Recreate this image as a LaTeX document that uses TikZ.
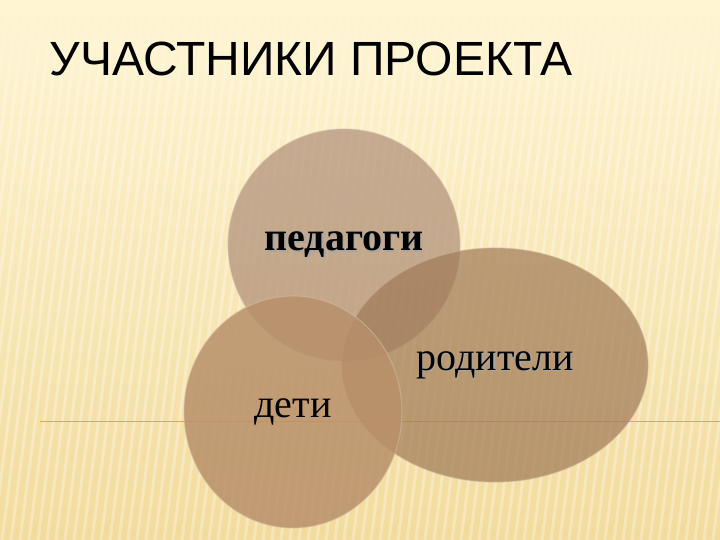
\documentclass[tikz,border=0pt]{standalone}
\usepackage{fontspec}
\setmainfont{Liberation Serif}
\newfontfamily\titlefont{Liberation Sans}
\usetikzlibrary{shapes.geometric,fadings}

\definecolor{creamtop}{HTML}{FFF5D3}
\definecolor{creambot}{HTML}{F2DB9C}
\definecolor{rulecol}{HTML}{E9A546}
\definecolor{pedcol}{HTML}{AE8D77}
\definecolor{rodcol}{HTML}{9F7956}
\definecolor{detcol}{HTML}{B8906A}

\begin{document}
\begin{tikzpicture}[x=1pt,y=-1pt,
    blob/.style={ellipse,fill opacity=0.7,text opacity=1,
      draw=#1!60!white,draw opacity=0.5,line width=1.2pt,fill=#1},
    lbl/.style={font=\fontsize{40}{44}\selectfont}]
    \useasboundingbox (0,0) rectangle (720,540);
    % background
    \shade[top color=creamtop,bottom color=creambot] (0,0) rectangle (720,540);
    \begin{scope}
      \clip (0,0) rectangle (720,540);
      \foreach \x in {-160,-151,...,720}
        \draw[white,opacity=0.3,line width=3pt] (\x,540) -- (\x+70,0);
    \end{scope}
    \fill[creamtop,path fading=south] (0,0) rectangle (720,110);
    \draw[rulecol,line width=0.9pt] (40,421) -- (720,421);

    \node[font=\titlefont\fontsize{48}{56}\selectfont,anchor=west]
      (title) at (46,59) {УЧАСТНИКИ ПРОЕКТА};

    % circles
    \node[blob=pedcol,minimum width=232pt,minimum height=232pt] (ped) at (344,245) {};
    \node[blob=rodcol,minimum width=306pt,minimum height=234pt] (rod) at (495,365) {};
    \node[blob=detcol,fill opacity=0.85,minimum width=218pt,minimum height=232pt] (det) at (293,412) {};

    % labels
    \node[font=\fontsize{40}{44}\selectfont\bfseries,black!35] at ([shift={(1.5,1.5)}]ped.center) {педагоги};
    \node[font=\fontsize{40}{44}\selectfont\bfseries] (pedtxt) at (ped.center) {педагоги};
    \node[lbl,black!35] at ([shift={(1.5,1.5)}]rod.center) {родители};
    \node[lbl] (rodtxt) at (rod.center) {родители};
    \node[lbl] (dettxt) at (det.center) {дети};
  \end{tikzpicture}
\end{document}
